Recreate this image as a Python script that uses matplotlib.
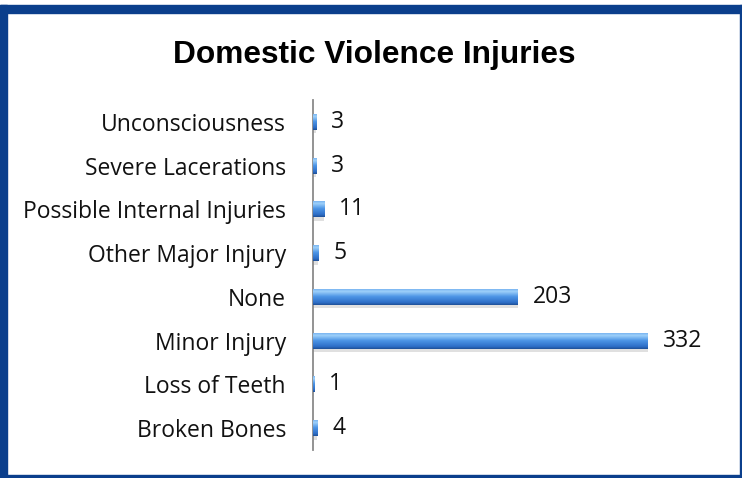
import matplotlib
matplotlib.use('Agg')
import matplotlib.pyplot as plt
import numpy as np
from matplotlib.colors import LinearSegmentedColormap
from matplotlib.patches import Rectangle

categories = ["Broken Bones", "Loss of Teeth", "Minor Injury", "None",
              "Other Major Injury", "Possible Internal Injuries",
              "Severe Lacerations", "Unconsciousness"]
values = [4, 1, 332, 203, 5, 11, 3, 3]
title = "Domestic Violence Injuries"

W, H = 742, 478
fig = plt.figure(figsize=(W / 100, H / 100), dpi=100)
fig.patch.set_facecolor('white')

# frame
border = '#0b3f8c'
fig.patches.append(Rectangle((0, 0), 7 / W, 1 - 5 / H, transform=fig.transFigure, color=border, zorder=0))
fig.patches.append(Rectangle((0, 1 - 13 / H), 1, 8 / H, transform=fig.transFigure, color=border, zorder=0))
fig.patches.append(Rectangle((1 - 2 / W, 0), 2 / W, 1 - 5 / H, transform=fig.transFigure, color=border, zorder=0))
fig.patches.append(Rectangle((0, 0), 1, 3 / H, transform=fig.transFigure, color=border, zorder=0))

ax = fig.add_axes([313 / W, 1 - 450 / H, 400 / W, 350 / H])
ax.set_facecolor('none')
xmax = 400 / 1.009
y = np.arange(len(categories))
bar_h = 0.37

ax.barh(y - 0.08, values, height=bar_h, color='#000000', alpha=0.12, zorder=1)
bars = ax.barh(y, values, height=bar_h, color='#3f86db', zorder=2)
cmap = LinearSegmentedColormap.from_list(
    'bevel', [(0, '#1f4f96'), (0.15, '#2e6fc8'), (0.5, '#4d95e6'),
              (0.8, '#9dd0fa'), (1, '#6aa8ec')])
grad = np.linspace(0, 1, 256).reshape(-1, 1)
for b in bars:
    x0, y0 = b.get_x(), b.get_y()
    w, h = b.get_width(), b.get_height()
    im = ax.imshow(grad, cmap=cmap, aspect='auto', origin='lower',
                   extent=[x0, x0 + w, y0, y0 + h], zorder=3)
    im.set_clip_path(b)

ax.set_xlim(0, xmax)
ax.set_ylim(-0.5, len(categories) - 0.5)

font = 'Open Sans'
fs = 16.5
for i, v in enumerate(values):
    ax.text(v + 15 / 1.009, i, str(v), va='center', ha='left',
            fontsize=fs, family=font, color='#111111')

ax.set_yticks(y)
ax.set_yticklabels(categories, fontsize=fs, family=font, color='#111111')
ax.set_xticks([])
ax.tick_params(axis='y', length=0, pad=19.5)
for s in ['top', 'right', 'bottom']:
    ax.spines[s].set_visible(False)
ax.spines['left'].set_color('#8a8a8a')
ax.spines['left'].set_linewidth(1.3)

fig.text(374 / W, 1 - 55 / H, title, ha='center', va='center',
         fontsize=22.8, fontweight='bold', family='Liberation Sans', color='black')

fig.savefig('out.png', dpi=100)
